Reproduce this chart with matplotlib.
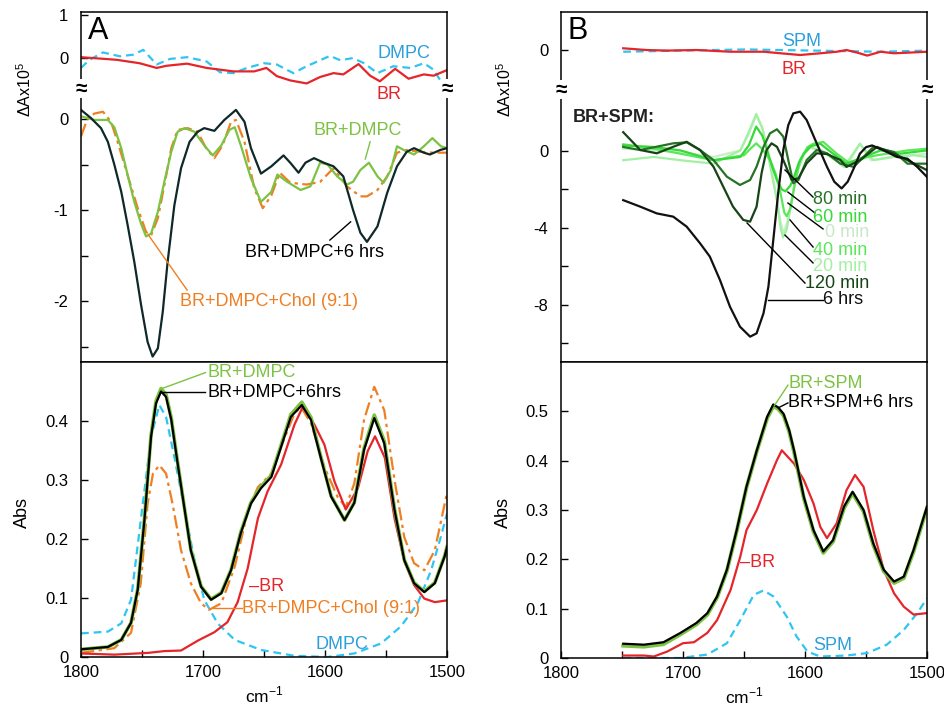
import numpy as np
import matplotlib.pyplot as plt
from matplotlib.ticker import FixedLocator, MultipleLocator

plt.rcParams['font.family'] = ['Liberation Sans', 'DejaVu Sans']
plt.rcParams['mathtext.fontset'] = 'custom'
plt.rcParams['mathtext.rm'] = 'Liberation Sans'

# ---------------- Panel A, difference spectra (dA x 1e5) ----------------
a_up_br_x = [1800, 1771, 1752, 1738, 1730, 1713, 1697, 1675, 1658, 1648, 1639.5, 1628.5, 1615, 1604,
             1593, 1585, 1572.5, 1563, 1555, 1542.5, 1531.5, 1519, 1511, 1500]
a_up_br_y = [0.02, -0.04, -0.12, -0.23, -0.18, -0.13, -0.23, -0.31, -0.31, -0.23, -0.42, -0.52, -0.59, -0.44,
             -0.35, -0.38, -0.14, -0.41, -0.54, -0.25, -0.48, -0.38, -0.41, -0.28]
a_up_dmpc_x = [1800, 1793, 1782, 1768, 1757, 1749, 1738, 1727, 1713, 1697, 1686, 1675, 1664, 1650, 1639.5,
               1626, 1615, 1596, 1587.5, 1577, 1568, 1557, 1544, 1530, 1519, 1511, 1505, 1500]
a_up_dmpc_y = [-0.23, -0.04, 0.13, 0.04, 0.08, 0.19, -0.15, -0.02, 0.02, -0.08, -0.33, -0.35, -0.23, -0.12, -0.15,
               -0.35, -0.19, 0.05, -0.05, 0.0, -0.12, -0.35, -0.19, -0.23, -0.12, -0.27, -0.54, -0.72]

a_6h_x = [1800, 1791.8, 1783.6, 1778, 1772.7, 1767, 1761.7, 1756.3, 1750.8, 1745.4, 1741.3, 1737, 1733, 1729,
          1723.5, 1718, 1711, 1704.4, 1699, 1690.7, 1682.5, 1673, 1666, 1660.7, 1652.5, 1644, 1634, 1628.5,
          1621.7, 1616, 1609, 1601, 1593, 1585, 1577, 1571, 1565.6, 1557, 1549, 1541, 1533, 1527, 1519, 1514,
          1505.5, 1500]
a_6h_y = [0.10, 0.01, -0.10, -0.25, -0.50, -0.80, -1.17, -1.57, -2.04, -2.45, -2.61, -2.52, -2.12, -1.57,
          -0.95, -0.54, -0.25, -0.14, -0.10, -0.13, -0.01, 0.10, -0.03, -0.32, -0.60, -0.52, -0.40, -0.48,
          -0.59, -0.48, -0.43, -0.48, -0.52, -0.63, -1.0, -1.25, -1.35, -1.18, -0.81, -0.52, -0.36, -0.32,
          -0.37, -0.39, -0.34, -0.32]
a_dmpc_x = [1800, 1789, 1778, 1772.7, 1767, 1761.7, 1756.3, 1750.8, 1746.7, 1742.6, 1737, 1731.7, 1726,
            1720.8, 1715, 1707, 1699, 1692, 1685, 1678.4, 1674, 1669, 1660.7, 1652.5, 1644, 1639, 1631, 1620,
            1612, 1604, 1598, 1590, 1582, 1577, 1571, 1564, 1557, 1552, 1546, 1541, 1535.5, 1527, 1519, 1512,
            1505, 1500]
a_dmpc_y = [0.03, -0.01, -0.01, -0.09, -0.32, -0.62, -0.91, -1.15, -1.29, -1.26, -1.02, -0.69, -0.36, -0.14,
            -0.10, -0.14, -0.29, -0.40, -0.29, -0.12, -0.09, -0.29, -0.65, -0.91, -0.80, -0.61, -0.69, -0.78,
            -0.74, -0.48, -0.50, -0.63, -0.72, -0.69, -0.56, -0.48, -0.63, -0.70, -0.56, -0.30, -0.34, -0.39,
            -0.30, -0.21, -0.30, -0.32]
a_chol_x = [1800, 1794.5, 1789, 1782, 1775.4, 1770, 1761.7, 1753.5, 1746.7, 1742.6, 1737, 1731.7, 1726,
            1720.8, 1712.6, 1704.4, 1697.5, 1690.7, 1684, 1677, 1673, 1666, 1658, 1651, 1644, 1637, 1628.5,
            1615, 1604, 1593, 1582, 1571, 1565.6, 1557, 1549, 1541, 1533, 1522, 1511, 1500]
a_chol_y = [-0.19, 0.01, 0.06, 0.08, -0.03, -0.25, -0.62, -0.98, -1.24, -1.28, -1.09, -0.73, -0.32, -0.12,
            -0.10, -0.14, -0.32, -0.43, -0.29, -0.03, -0.01, -0.25, -0.76, -0.98, -0.84, -0.59, -0.70, -0.72,
            -0.69, -0.54, -0.74, -0.85, -0.85, -0.78, -0.63, -0.37, -0.34, -0.36, -0.37, -0.37]

# ---------------- Panel A, absorbance ----------------
a_abs_x = [1800, 1778, 1767, 1759, 1753.5, 1748, 1742.6, 1738.5, 1734.4, 1730.3, 1726, 1720.8, 1715, 1710,
           1701.6, 1693.4, 1685, 1677, 1669, 1660.7, 1652.5, 1644, 1636, 1628, 1619, 1611.5, 1603, 1595,
           1584, 1576, 1568, 1559.6, 1551.4, 1543, 1535, 1527, 1518.6, 1510, 1502, 1500]
a_abs_6h = [0.013, 0.017, 0.029, 0.058, 0.114, 0.232, 0.373, 0.430, 0.450, 0.441, 0.402, 0.328, 0.249, 0.181,
            0.119, 0.097, 0.108, 0.147, 0.210, 0.260, 0.286, 0.305, 0.356, 0.407, 0.427, 0.402, 0.334, 0.272,
            0.232, 0.261, 0.351, 0.405, 0.362, 0.249, 0.164, 0.125, 0.110, 0.125, 0.170, 0.186]
a_abs_dmpc = [0.013, 0.017, 0.029, 0.058, 0.115, 0.234, 0.376, 0.434, 0.455, 0.445, 0.405, 0.330, 0.250, 0.182,
              0.120, 0.098, 0.109, 0.148, 0.212, 0.262, 0.289, 0.308, 0.359, 0.411, 0.432, 0.406, 0.336, 0.273,
              0.232, 0.262, 0.354, 0.410, 0.366, 0.251, 0.165, 0.126, 0.111, 0.126, 0.171, 0.187]
a_abs_chol_x = [1800, 1772.7, 1759, 1751, 1745.4, 1741, 1735.8, 1730.3, 1725, 1718, 1710, 1701.6, 1695, 1685,
                1674, 1663, 1655, 1644, 1636, 1625, 1619.7, 1611.5, 1600.5, 1589.6, 1583, 1576, 1568, 1559.6,
                1551.4, 1543, 1535, 1527, 1518.6, 1510, 1500]
a_abs_chol = [0.007, 0.015, 0.041, 0.125, 0.260, 0.311, 0.325, 0.311, 0.260, 0.181, 0.125, 0.091, 0.080, 0.091,
              0.153, 0.249, 0.288, 0.311, 0.356, 0.413, 0.424, 0.396, 0.322, 0.271, 0.254, 0.294, 0.402, 0.458,
              0.418, 0.300, 0.203, 0.159, 0.147, 0.181, 0.278]
a_abs_br_x = [1800, 1772.7, 1745, 1731.7, 1718, 1704, 1690.7, 1680, 1671.6, 1663.4, 1655, 1647, 1636, 1625,
              1618, 1608.7, 1600.5, 1592.3, 1583, 1573, 1565, 1559, 1551, 1543, 1535, 1527, 1518.6, 1510, 1500]
a_abs_br = [0.006, 0.004, 0.007, 0.010, 0.011, 0.028, 0.042, 0.059, 0.093, 0.150, 0.235, 0.281, 0.326, 0.394,
            0.425, 0.394, 0.360, 0.298, 0.250, 0.286, 0.349, 0.374, 0.338, 0.235, 0.162, 0.122, 0.099, 0.093,
            0.096]
a_abs_lip_x = [1800, 1778, 1767, 1759, 1751, 1742.6, 1735.8, 1730.3, 1723.5, 1715, 1707, 1699, 1688, 1674,
               1652.5, 1625, 1598, 1576, 1554, 1537.7, 1524, 1513, 1505, 1500]
a_abs_lip = [0.040, 0.043, 0.057, 0.097, 0.232, 0.373, 0.427, 0.407, 0.339, 0.249, 0.164, 0.097, 0.057, 0.029,
             0.012, 0.002, 0.0, 0.006, 0.023, 0.052, 0.091, 0.147, 0.204, 0.243]

# ---------------- Panel B, difference spectra ----------------
b_up_br_x = [1749, 1730, 1713, 1689, 1661, 1634, 1620, 1604, 1587.5, 1574, 1566, 1557, 1549, 1538, 1527, 1516, 1500]
b_up_br_y = [0.09, 0.0, -0.03, 0.0, -0.09, -0.09, -0.17, -0.26, -0.17, -0.09, 0.0, -0.14, -0.29, -0.09, -0.17,
             -0.14, -0.09]
b_up_spm_x = [1749, 1702, 1648, 1593, 1538, 1500]
b_up_spm_y = [-0.09, -0.03, 0.03, -0.03, -0.09, -0.03]

b_6h_x = [1749, 1735, 1721.5, 1708, 1697, 1686, 1678, 1669.7, 1661.5, 1653.3, 1645, 1639.7, 1634, 1630, 1626,
          1622, 1617.8, 1613.7, 1609.6, 1604, 1598.6, 1590.4, 1582, 1576, 1570, 1565, 1560, 1555, 1550, 1545,
          1535.5, 1524.6, 1516, 1508, 1500]
b_6h_y = [-2.56, -2.90, -3.25, -3.42, -3.94, -4.81, -5.50, -6.72, -8.11, -9.15, -9.67, -9.50, -8.45, -7.07,
          -4.64, -2.20, 0.05, 1.35, 1.96, 2.05, 1.61, 0.40, -0.82, -1.60, -1.95, -1.60, -0.90, -0.14, 0.20, 0.29,
          0.03, -0.31, -0.40, -0.83, -1.35]
b_120_x = [1749, 1735, 1721.5, 1708, 1697, 1686, 1675, 1667, 1659, 1650.6, 1645, 1639.7, 1635.6, 1631.5,
           1627.4, 1623, 1617.8, 1611, 1605.4, 1598.6, 1590.4, 1582, 1571, 1566, 1555, 1541, 1527, 1516, 1500]
b_120_y = [0.98, 0.05, -0.12, 0.22, 0.48, 0.05, -0.82, -1.86, -2.90, -3.59, -3.68, -2.90, -1.16, 0.05, 0.40,
           0.22, -0.47, -1.51, -1.42, -0.64, -0.12, -0.16, -0.47, -0.83, -0.48, 0.21, -0.14, -0.48, -1.0]
b_80_x = [1749, 1735, 1708, 1697, 1686, 1675, 1664, 1653.3, 1645, 1639.7, 1634, 1628.7, 1623, 1617.8, 1613.7,
          1609.6, 1605.4, 1598.6, 1590.4, 1582, 1571, 1560, 1544, 1527, 1516, 1500]
b_80_y = [0.21, 0.05, 0.40, 0.45, 0.05, -0.47, -1.34, -1.77, -1.51, -0.82, 0.22, 0.92, 1.13, 0.75, -0.47,
          -1.68, -1.51, -0.47, 0.05, -0.12, -0.66, -0.83, 0.21, -0.05, -0.66, -0.66]
b_60_x = [1749, 1724, 1702, 1675, 1653, 1646, 1640, 1635, 1631, 1627, 1623, 1619, 1616, 1612, 1609, 1605,
          1601, 1595, 1587.5, 1577, 1566, 1552, 1538, 1522, 1500]
b_60_y = [0.29, 0.21, 0.03, -0.48, -0.31, 0.30, 1.27, 0.80, 0.03, -0.80, -1.52, -2.00, -2.10, -1.80, -1.35,
          -0.60, -0.14, 0.25, 0.38, -0.14, -0.66, -0.31, 0.03, -0.14, 0.03]
b_40_x = [1749, 1724, 1702, 1675, 1650, 1645, 1640, 1635, 1628.5, 1624, 1620, 1617, 1615, 1612, 1608, 1604,
          1598, 1593, 1585, 1574, 1563, 1549, 1533, 1516, 1500]
b_40_y = [0.35, 0.12, -0.14, -0.48, -0.22, 0.10, 0.40, 0.10, -0.48, -1.20, -2.21, -3.20, -3.40, -3.00, -1.60,
          -0.48, 0.20, 0.38, 0.47, -0.14, -0.66, -0.31, -0.14, 0.03, 0.12]
b_20_x = [1749, 1724, 1702, 1675, 1653, 1646, 1640, 1635, 1631, 1627, 1623, 1620, 1618, 1615, 1612, 1607, 1601,
          1596, 1582, 1568, 1555, 1544, 1527, 1511, 1500]
b_20_y = [-0.48, -0.31, -0.48, -0.66, 0.03, 1.00, 1.93, 1.20, 0.03, -1.30, -2.56, -4.00, -4.50, -4.10, -3.00,
          -1.17, -0.20, 0.21, -0.14, -0.83, 0.38, -0.48, -0.31, -0.22, -0.31]
b_0_x = [1749, 1724, 1702, 1675, 1653, 1646, 1640, 1635, 1631, 1627, 1623, 1620, 1617.6, 1614, 1610, 1604, 1598,
         1593, 1579.5, 1566, 1555, 1546, 1530, 1500]
b_0_y = [0.12, 0.03, -0.05, -0.31, 0.03, 0.90, 1.85, 1.20, 0.21, -1.10, -2.56, -3.70, -4.28, -3.60, -2.20,
         -0.48, 0.20, 0.38, -0.31, -0.83, 0.38, -0.48, -0.31, -0.14]

# ---------------- Panel B, absorbance ----------------
b_abs_x = [1749, 1732, 1716, 1702, 1689, 1680, 1672, 1664, 1656, 1648, 1639.5, 1631, 1626, 1622, 1617.6, 1613,
           1609, 1601, 1593, 1585, 1577, 1568, 1561, 1552, 1544, 1535.5, 1527, 1519, 1511, 1500]
b_abs_6h = [0.029, 0.027, 0.032, 0.051, 0.071, 0.091, 0.125, 0.179, 0.259, 0.347, 0.421, 0.489, 0.514, 0.508,
            0.495, 0.462, 0.421, 0.327, 0.259, 0.216, 0.239, 0.307, 0.337, 0.300, 0.232, 0.179, 0.155, 0.165,
            0.219, 0.307]
b_abs_spm_br = [0.025, 0.023, 0.028, 0.048, 0.068, 0.088, 0.123, 0.177, 0.257, 0.345, 0.419, 0.486, 0.510, 0.505,
                0.492, 0.459, 0.418, 0.324, 0.256, 0.213, 0.236, 0.304, 0.334, 0.297, 0.229, 0.176, 0.152, 0.162,
                0.216, 0.304]
b_abs_br_x = [1749, 1732, 1724, 1713, 1700, 1691, 1680, 1672, 1661, 1653, 1648, 1639.5, 1631, 1623, 1619, 1609,
              1601, 1593, 1587.5, 1582, 1574, 1566, 1559, 1552, 1544, 1535.5, 1527, 1519, 1511, 1500]
b_abs_br = [0.005, 0.005, 0.003, 0.013, 0.030, 0.032, 0.051, 0.077, 0.138, 0.206, 0.259, 0.300, 0.354, 0.401,
            0.421, 0.394, 0.361, 0.313, 0.266, 0.243, 0.273, 0.340, 0.371, 0.347, 0.259, 0.179, 0.131, 0.104,
            0.088, 0.091]
b_abs_lip_x = [1749, 1702, 1680, 1664, 1653, 1642, 1634, 1626, 1615, 1607, 1598, 1587.5, 1566, 1549, 1533, 1519,
               1508, 1500]
b_abs_lip = [0.0, 0.0, 0.007, 0.030, 0.077, 0.128, 0.137, 0.125, 0.084, 0.044, 0.013, 0.003, 0.005, 0.010, 0.027,
             0.057, 0.091, 0.121]

RED = '#e4252a'
CYAN = '#2ec5f2'
CYAN_TXT = '#2a9fdc'
GREEN = '#7cc243'
ORANGE = '#ef7f22'
DARK = '#0f2828'
LW = 1.6
DASH = (0, (3.5, 2.2))
DASHDOT = (0, (6, 2, 1.5, 2))

# pixel layout of the 944x710 figure
W, H = 944, 710
fig = plt.figure(figsize=(W / 100, H / 100), dpi=100)


def box(x0, y0, x1, y1):
    return [x0 / W, 1 - y1 / H, (x1 - x0) / W, (y1 - y0) / H]


axA1 = fig.add_axes(box(81, 12, 447, 362))
axA2 = fig.add_axes(box(81, 362, 447, 657))
axB1 = fig.add_axes(box(561, 12, 927, 362))
axB2 = fig.add_axes(box(561, 362, 927, 658))

for ax in (axA1, axA2, axB1, axB2):
    ax.set_xlim(1800, 1500)
    ax.tick_params(direction='in', length=5, width=1, labelsize=12)
    ax.tick_params(axis='y', pad=9)
    ax.tick_params(axis='x', pad=6)
    ax.tick_params(which='minor', direction='in', length=5, width=1)
    for s in ax.spines.values():
        s.set_linewidth(1.1)
for ax in (axA1, axB1):
    ax.set_xticks([])
for ax in (axA2, axB2):
    ax.xaxis.set_major_locator(MultipleLocator(100))
    ax.xaxis.set_minor_locator(MultipleLocator(50))
    ax.set_xlabel('cm$^{-1}$', fontsize=12.5, labelpad=3)

# ---- Panel A top: broken y axis (upper strip placed above the main trace) ----
UA_OFF, UA_SC = 0.67, 0.473
axA1.set_ylim(-2.67, 1.176)
axA1.plot(a_up_dmpc_x, UA_OFF + UA_SC * np.array(a_up_dmpc_y), color=CYAN, lw=LW, ls=DASH)
axA1.plot(a_up_br_x, UA_OFF + UA_SC * np.array(a_up_br_y), color=RED, lw=LW)
axA1.plot(a_chol_x, a_chol_y, color=ORANGE, lw=LW, ls=DASHDOT)
axA1.plot(a_dmpc_x, a_dmpc_y, color=GREEN, lw=LW)
axA1.plot(a_6h_x, a_6h_y, color=DARK, lw=LW)
axA1.yaxis.set_major_locator(FixedLocator([-2, -1, 0, UA_OFF, UA_OFF + UA_SC]))
axA1.set_yticklabels(['-2', '-1', '0', '0', '1'])
axA1.yaxis.set_minor_locator(FixedLocator([-2.5, -1.5, -0.5]))

axA1.text(1556.6, 0.725, 'DMPC', color=CYAN_TXT, fontsize=13, va='center')
axA1.text(1557.4, 0.264, 'BR', color=RED, fontsize=13, va='center')
axA1.text(1609.8, -0.121, 'BR+DMPC', color=GREEN, fontsize=13, va='center')
axA1.plot([1567, 1563], [-0.44, -0.25], color=GREEN, lw=1)
axA1.text(1665.6, -1.47, 'BR+DMPC+6 hrs', color='black', fontsize=13, va='center')
axA1.plot([1579, 1596], [-1.13, -1.33], color='black', lw=1)
axA1.text(1718.9, -2.01, 'BR+DMPC+Chol (9:1)', color=ORANGE, fontsize=13, va='center')
axA1.plot([1745, 1713], [-1.27, -1.88], color=ORANGE, lw=1)
axA1.text(0.018, 0.945, 'A', transform=axA1.transAxes, fontsize=22, va='center')

# ---- Panel A bottom: absorbance ----
axA2.set_ylim(0, 0.5)
axA2.plot(a_abs_lip_x, a_abs_lip, color=CYAN, lw=LW, ls=DASH)
axA2.plot(a_abs_chol_x, a_abs_chol, color=ORANGE, lw=LW, ls=DASHDOT)
axA2.plot(a_abs_br_x, a_abs_br, color=RED, lw=LW)
axA2.plot(a_abs_x, a_abs_dmpc, color=GREEN, lw=2.6)
axA2.plot(a_abs_x, a_abs_6h, color='black', lw=LW)
axA2.set_yticks([0, 0.1, 0.2, 0.3, 0.4])
axA2.set_yticklabels(['0', '0.1', '0.2', '0.3', '0.4'])

axA2.plot([1735, 1698], [0.454, 0.482], color=GREEN, lw=1)
axA2.text(1696, 0.482, 'BR+DMPC', color=GREEN, fontsize=13, va='center')
axA2.plot([1733, 1698], [0.449, 0.449], color='black', lw=1)
axA2.text(1696, 0.449, 'BR+DMPC+6hrs', color='black', fontsize=13, va='center')
axA2.text(1662, 0.119, '–BR', color=RED, fontsize=13, va='center')
axA2.plot([1692, 1668], [0.083, 0.083], color=ORANGE, lw=1)
axA2.text(1668, 0.083, 'BR+DMPC+Chol (9:1)', color=ORANGE, fontsize=13, va='center')
axA2.text(1608, 0.022, 'DMPC', color=CYAN_TXT, fontsize=13, va='center')

# ---- Panel B top ----
UB_OFF = 5.26
axB1.set_ylim(-10.99, 7.24)
axB1.plot(b_up_spm_x, UB_OFF + np.array(b_up_spm_y), color=CYAN, lw=LW, ls=DASH)
axB1.plot(b_up_br_x, UB_OFF + np.array(b_up_br_y), color=RED, lw=LW)
b_series = [
    (b_0_x, b_0_y, '#c8efc8'),
    (b_20_x, b_20_y, '#a3f0a3'),
    (b_40_x, b_40_y, '#5ae85a'),
    (b_60_x, b_60_y, '#38d838'),
    (b_80_x, b_80_y, '#267326'),
    (b_120_x, b_120_y, '#174417'),
    (b_6h_x, b_6h_y, '#111111'),
]
for bx, by, c in b_series:
    axB1.plot(bx, by, color=c, lw=LW)
axB1.yaxis.set_major_locator(FixedLocator([-8, -4, 0, UB_OFF]))
axB1.set_yticklabels(['-8', '-4', '0', '0'])
axB1.yaxis.set_minor_locator(FixedLocator([-10, -6, -2]))

axB1.text(1618.9, 5.68, 'SPM', color=CYAN_TXT, fontsize=13, va='center')
axB1.text(1618.9, 4.22, 'BR', color=RED, fontsize=13, va='center')
axB1.text(1790, 1.77, 'BR+SPM:', color='#222222', fontsize=13, fontweight='bold', va='center')
b_labels = [
    ('80 min', '#267326', 1593.4, -2.55, (1616.4, -0.99), (1593.4, -2.40)),
    ('60 min', '#38d838', 1593.4, -3.44, (1614.0, -2.14), (1591.8, -3.23)),
    ('0 min', '#c8e8c8', 1583.6, -4.27, (1614.0, -2.71), (1585.2, -4.06)),
    ('40 min', '#5ae85a', 1593.4, -5.16, (1612.3, -3.59), (1593.4, -5.00)),
    ('20 min', '#a3f0a3', 1593.4, -6.04, (1616.4, -4.38), (1593.4, -5.83)),
    ('120 min', '#174417', 1600.0, -6.88, (1647.5, -3.75), (1600.0, -6.88)),
    ('6 hrs', '#111111', 1585.2, -7.71, (1630.3, -7.76), (1585.2, -7.76)),
]
for txt, c, tx, ty, p0, p1 in b_labels:
    axB1.plot([p0[0], p1[0]], [p0[1], p1[1]], color='black', lw=1)
    axB1.text(tx, ty, txt, color=c, fontsize=13, va='center')
axB1.text(0.018, 0.945, 'B', transform=axB1.transAxes, fontsize=22, va='center')

# ---- Panel B bottom ----
axB2.set_ylim(0, 0.6)
axB2.plot(b_abs_lip_x, b_abs_lip, color=CYAN, lw=LW, ls=DASH)
axB2.plot(b_abs_br_x, b_abs_br, color=RED, lw=LW)
axB2.plot(b_abs_x, b_abs_spm_br, color=GREEN, lw=2.8)
axB2.plot(b_abs_x, b_abs_6h, color='black', lw=LW)
axB2.set_yticks([0, 0.1, 0.2, 0.3, 0.4, 0.5])
axB2.set_yticklabels(['0', '0.1', '0.2', '0.3', '0.4', '0.5'])
axB2.plot([1625, 1614], [0.512, 0.553], color=GREEN, lw=1)
axB2.text(1613.9, 0.557, 'BR+SPM', color=GREEN, fontsize=13, va='center')
axB2.plot([1622, 1614], [0.507, 0.517], color='black', lw=1)
axB2.text(1613.9, 0.518, 'BR+SPM+6 hrs', color='black', fontsize=13, va='center')
axB2.text(1653.3, 0.194, '–BR', color=RED, fontsize=13, va='center')
axB2.text(1593.4, 0.026, 'SPM', color=CYAN_TXT, fontsize=13, va='center')

# axis break marks
for ax, yb in ((axA1, 0.33), (axB1, 3.18)):
    for xa in (0, 1):
        ax.text(xa, yb, '≈', transform=ax.get_yaxis_transform(), ha='center', va='center',
                fontsize=15, fontweight='bold', clip_on=False,
                bbox=dict(facecolor='white', edgecolor='none', pad=0.0))

# y labels
fig.text(25 / W, 1 - 90 / H, 'ΔAx10$^5$', rotation=90, ha='center', va='center', fontsize=11.5)
fig.text(22 / W, 1 - 513 / H, 'Abs', rotation=90, ha='center', va='center', fontsize=13)
fig.text(505 / W, 1 - 90 / H, 'ΔAx10$^5$', rotation=90, ha='center', va='center', fontsize=11.5)
fig.text(503 / W, 1 - 513 / H, 'Abs', rotation=90, ha='center', va='center', fontsize=13)

fig.savefig('out.png', dpi=100)
